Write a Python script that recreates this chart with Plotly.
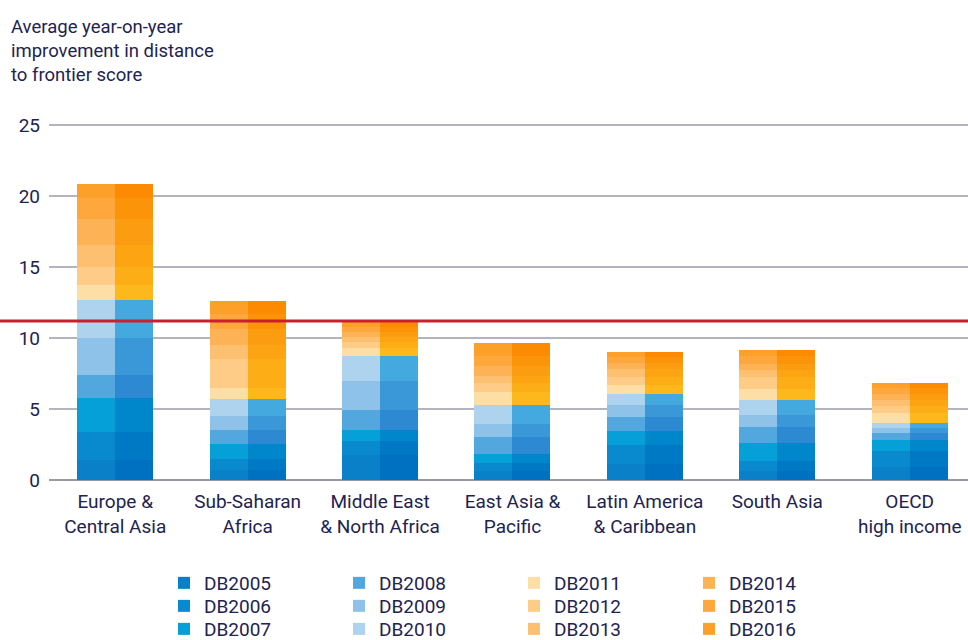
import plotly.graph_objects as go

categories = ["Europe &<br>Central Asia", "Sub-Saharan<br>Africa", "Middle East<br>& North Africa",
              "East Asia &<br>Pacific", "Latin America<br>& Caribbean", "South Asia", "OECD<br>high income"]

series_names = ["DB2005", "DB2006", "DB2007", "DB2008", "DB2009", "DB2010",
                "DB2011", "DB2012", "DB2013", "DB2014", "DB2015", "DB2016"]

db2005 = [1.40, 0.70, 1.75, 0.60, 1.13, 0.60, 0.94]
db2006 = [2.00, 0.80, 1.00, 0.60, 1.33, 0.70, 1.13]
db2007 = [2.35, 1.05, 0.80, 0.60, 1.00, 1.30, 0.75]
db2008 = [1.65, 1.00, 1.40, 1.20, 0.95, 1.10, 0.51]
db2009 = [2.60, 0.95, 2.05, 0.95, 0.87, 0.90, 0.35]
db2010 = [2.70, 1.20, 1.70, 1.30, 0.78, 1.00, 0.36]
db2011 = [1.00, 0.80, 0.60, 0.95, 0.63, 0.80, 0.70]
db2012 = [1.30, 2.00, 0.40, 0.65, 0.54, 0.85, 0.47]
db2013 = [1.55, 1.00, 0.35, 0.50, 0.56, 0.47, 0.42]
db2014 = [1.80, 1.10, 0.40, 0.65, 0.43, 0.47, 0.43]
db2015 = [1.50, 1.10, 0.35, 0.75, 0.46, 0.56, 0.40]
db2016 = [1.00, 0.90, 0.30, 0.90, 0.36, 0.42, 0.39]

series_values = [db2005, db2006, db2007, db2008, db2009, db2010,
                 db2011, db2012, db2013, db2014, db2015, db2016]

average_improvement = 11.2
y_ticks = [0, 5, 10, 15, 20, 25]

# lighter (left half) and darker (right half) shade per series
light_colors = ["#0A80C8", "#0A8ACE", "#05A0D8", "#52A8DE", "#8EC2E8", "#AED3EF",
                "#FDDFA6", "#FECC86", "#FDBF70", "#FDB256", "#FDA73C", "#FDA02A"]
dark_colors = ["#0070C0", "#0079C4", "#0086CA", "#2D8AD2", "#3A98D8", "#44A9DE",
               "#FDB81C", "#FDAD16", "#FDA412", "#FC9C10", "#FC940A", "#FC8A02"]

TEXT = "#1D2352"
FONT = "Roboto, sans-serif"

BAR_W = 0.574
half = BAR_W / 2
idx = list(range(len(categories)))
x_left = [i - half / 2 for i in idx]
x_right = [i + half / 2 for i in idx]

# legend laid out as 3 rows x 4 columns (column-major order, like the original)
legend_ids = ["legend", "legend2", "legend3"]

fig = go.Figure()
for k, (name, vals) in enumerate(zip(series_names, series_values)):
    lg = legend_ids[k % 3]
    fig.add_trace(go.Bar(x=x_left, y=vals, width=half, name=name,
                         marker=dict(color=light_colors[k], line=dict(width=0)),
                         showlegend=True, legend=lg))
    fig.add_trace(go.Bar(x=x_right, y=vals, width=half, name=name,
                         marker=dict(color=dark_colors[k], line=dict(width=0)),
                         showlegend=False, legend=lg))

fig.add_shape(type="line", xref="paper", yref="y", x0=-0.06, x1=1.0,
              y0=average_improvement, y1=average_improvement,
              line=dict(color="#C8202F", width=3))

L, R, T, B = 49, 0, 123, 158
plot_w = 968 - L - R
plot_h = 640 - T - B

row_y_px = [583, 606, 629]
legends = {}
for lid, yp in zip(legend_ids, row_y_px):
    legends[lid] = dict(orientation="h", xanchor="left", yanchor="middle",
                        x=(164 - L) / plot_w, y=(T + plot_h - yp) / plot_h,
                        entrywidth=130, entrywidthmode="pixels", traceorder="normal",
                        bgcolor="rgba(0,0,0,0)", font=dict(family=FONT, size=19, color=TEXT),
                        itemclick=False, itemdoubleclick=False)

fig.update_layout(
    width=968, height=640,
    margin=dict(l=L, r=R, t=T, b=B, autoexpand=False),
    barmode="stack",
    plot_bgcolor="white", paper_bgcolor="white",
    font=dict(family=FONT, size=19, color=TEXT),
    xaxis=dict(tickmode="array", tickvals=idx, ticktext=categories,
               range=[-0.5, 6.44], showgrid=False, zeroline=False, showline=False,
               ticks="", automargin=False, ticklabelstandoff=6,
               tickfont=dict(family=FONT, size=19, color=TEXT)),
    yaxis=dict(range=[-0.15, 25.15], tickvals=y_ticks, showgrid=True,
               gridcolor="#B4B4BE", gridwidth=2, zeroline=True, zerolinecolor="#9A9AA2",
               zerolinewidth=2, showline=False, ticks="", ticklabelstandoff=8, automargin=False,
               tickfont=dict(family=FONT, size=19, color=TEXT)),
    annotations=[dict(text="Average year-on-year<br>improvement in distance<br>to frontier score",
                      xref="paper", yref="paper", x=(9 - L) / plot_w, y=(T + plot_h - 14) / plot_h,
                      xanchor="left", yanchor="top", align="left", showarrow=False,
                      font=dict(family=FONT, size=18.5, color=TEXT))],
    **legends,
)

fig.write_html("out.html", config={"displayModeBar": False},
               post_script="document.body.style.margin='0';")
